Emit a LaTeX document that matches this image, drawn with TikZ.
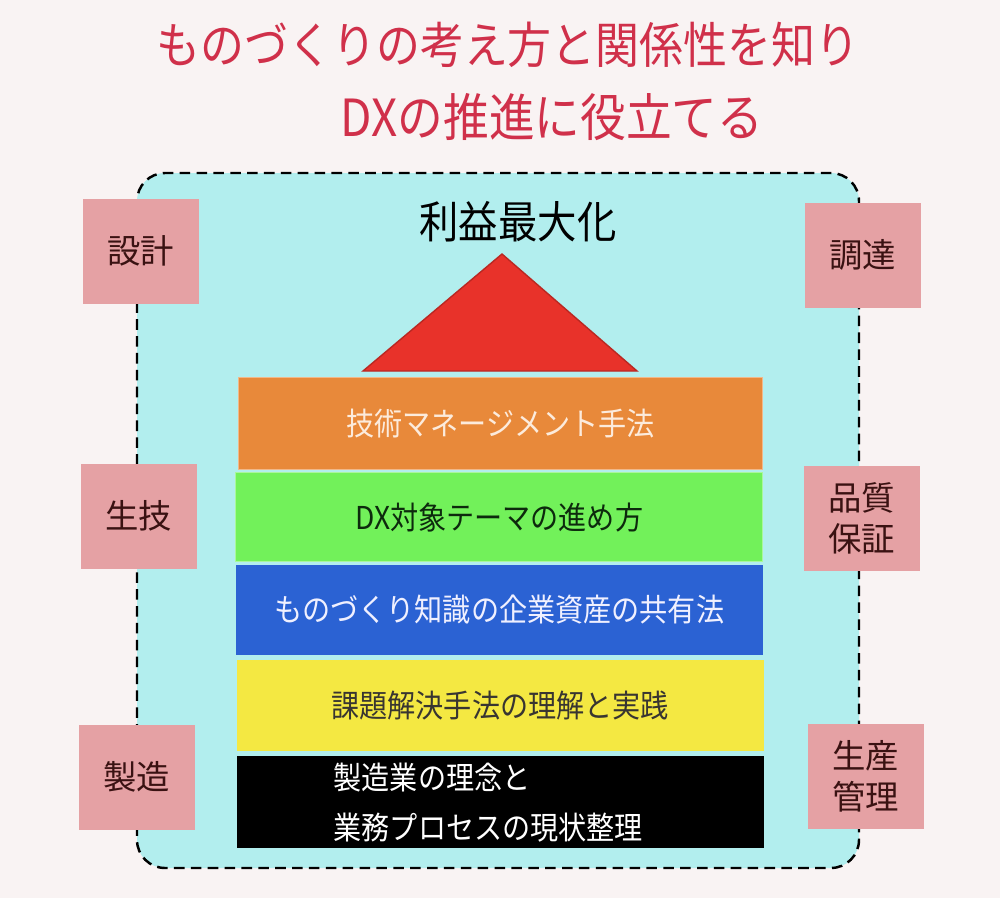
\documentclass[tikz,border=0pt]{standalone}
\usepackage{fontspec}
\newfontfamily\jp{Noto Sans CJK JP}
\definecolor{bgc}{HTML}{F9F3F3}
\definecolor{titlec}{HTML}{D0304A}
\definecolor{cyanc}{HTML}{B2EEEE}
\definecolor{pinkc}{HTML}{E5A1A4}
\definecolor{pinktext}{HTML}{3A1212}
\definecolor{tric}{HTML}{E8322A}
\definecolor{orangec}{HTML}{E8893A}
\definecolor{greenc}{HTML}{72F15A}
\definecolor{bluec}{HTML}{2B62D3}
\definecolor{yellowc}{HTML}{F4E842}
\definecolor{orangetext}{HTML}{FCEBDC}
\definecolor{greentext}{HTML}{0D2A0D}
\newcommand{\tallt}[1]{\scalebox{1}[1.12]{#1}}
\begin{document}
\begin{tikzpicture}[x=0.2845pt,y=-0.2845pt,
  pinkbox/.style={fill=pinkc, minimum width=116*0.2845pt, minimum height=105*0.2845pt,
    anchor=north west, inner sep=0pt, text=pinktext, align=center,
    font=\jp\fontsize{9.5}{11.6}\selectfont},
  layer/.style={anchor=north west, inner sep=0pt, minimum width=527*0.2845pt,
    minimum height=90*0.2845pt},
  layertext/.style={inner sep=0pt, font=\jp\fontsize{8}{14.2}\selectfont},
  titletext/.style={inner sep=0pt, text=titlec}]
\useasboundingbox (0,0) rectangle (1000,898);
\fill[bgc] (0,0) rectangle (1000,898);
% titles
\node[titletext, font=\jp\fontsize{12.5}{15}\selectfont] (t1) at (508,45) {\tallt{ものづくりの考え方と関係性を知り}};
\node[titletext, font=\jp\fontsize{13}{15}\selectfont] (t2) at (552,117) {\tallt{DXの推進に役立てる}};
% dashed frame
\draw[fill=cyanc, line width=0.7pt, dash pattern=on 3pt off 1.8pt, rounded corners=8pt]
  (137,173) rectangle (859,868);
\coordinate (frame) at (498,520);
% side boxes
\node[pinkbox] (sekkei) at (82,198) {設計};
\node[pinkbox] (chotatsu) at (804,202) {調達};
\node[pinkbox] (seigi) at (80,463) {生技};
\node[pinkbox] (hinshitsu) at (803,465) {品質\\保証};
\node[pinkbox] (seizo) at (78,724) {製造};
\node[pinkbox] (seisan) at (807,723) {生産\\管理};
% top
\node[inner sep=0pt, font=\jp\fontsize{11.2}{13}\selectfont] (rieki) at (518,222) {\tallt{利益最大化}};
\coordinate (apex) at (502,254);
\coordinate (bl) at (363,371);
\coordinate (br) at (637,371);
\draw[fill=tric, draw=tric!80!black, line width=0.4pt] (apex) -- (br) -- (bl) -- cycle;
% layers
\node[layer, fill=orangec, draw=orangec!60!white, line width=0.4pt, minimum width=524*0.2845pt, minimum height=92*0.2845pt] (l1) at (238,377) {};
\node[layertext, text=orangetext] at (l1.center) {\tallt{技術マネージメント手法}};
\node[layer, fill=greenc, draw=greenc!60!white, line width=0.4pt, minimum height=89*0.2845pt] (l2) at (235,472) {};
\node[layertext, text=greentext] at (l2.center) {\tallt{DX対象テーマの進め方}};
\node[layer, fill=bluec] (l3) at (235,564) {};
\node[layertext, text=white!94!blue] at (l3.center) {\tallt{ものづくり知識の企業資産の共有法}};
\node[layer, fill=yellowc, minimum height=91*0.2845pt] (l4) at (236,659) {};
\node[layertext, text=black!90!yellow] at (l4.center) {\tallt{課題解決手法の理解と実践}};
\node[layer, fill=black, minimum height=92*0.2845pt] (l5) at (236,755) {};
\node[layertext, text=white, anchor=west] (l5a) at (333,778) {\tallt{製造業の理念と}};
\node[layertext, text=white, anchor=west] (l5b) at (333,828) {\tallt{業務プロセスの現状整理}};
\end{tikzpicture}
\end{document}
